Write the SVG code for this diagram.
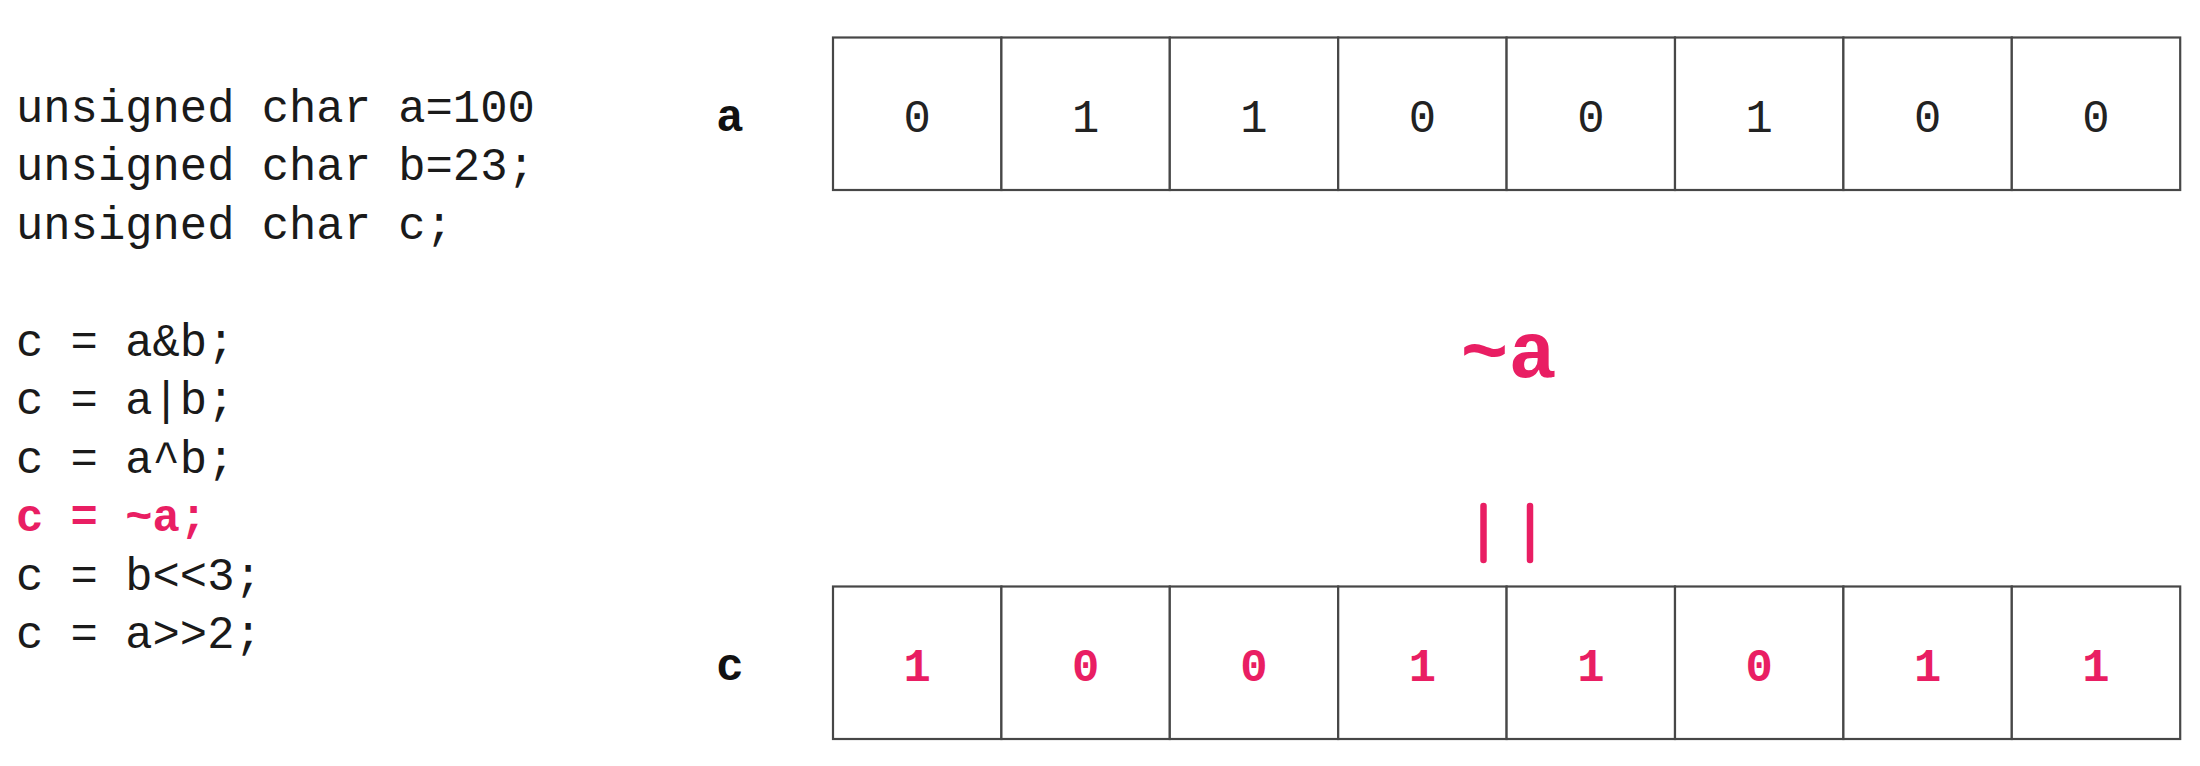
<svg xmlns="http://www.w3.org/2000/svg" width="2200" height="766" viewBox="0 0 2200 766">
<style>
.code{font-family:"Liberation Mono","Courier New",monospace;font-size:45.5px;fill:#1a1a1a}
.hl{font-family:"Liberation Mono","Courier New",monospace;font-size:45.5px;font-weight:bold;fill:#E91E63}
.cell{fill:#fff;stroke:#474747;stroke-width:2.2}
.va{font-family:"Liberation Mono","Courier New",monospace;font-size:45.5px;fill:#222;text-anchor:middle}
.vc{font-family:"Liberation Mono","Courier New",monospace;font-size:45.5px;font-weight:bold;fill:#E91E63;text-anchor:middle}
.lbl{font-family:"Liberation Mono","Courier New",monospace;font-size:45.5px;font-weight:bold;fill:#111;text-anchor:middle}
.op{font-family:"Liberation Mono","Courier New",monospace;font-size:80px;font-weight:bold;fill:#E91E63;text-anchor:middle}
.eq{stroke:#E91E63;stroke-width:6.5;stroke-linecap:round;fill:none}
</style>
<rect width="2200" height="766" fill="#fff"/>
<g id="code">
<text class="code" x="16" y="121.5">unsigned char a=100</text>
<text class="code" x="16" y="180">unsigned char b=23;</text>
<text class="code" x="16" y="238.5">unsigned char c;</text>
<text class="code" x="16" y="355.5">c = a&amp;b;</text>
<text class="code" x="16" y="414">c = a|b;</text>
<text class="code" x="16" y="472.5">c = a^b;</text>
<text class="hl" x="16" y="531">c = ~a;</text>
<text class="code" x="16" y="589.5">c = b&lt;&lt;3;</text>
<text class="code" x="16" y="648">c = a&gt;&gt;2;</text>
</g>
<g id="label-a"><text class="lbl" x="730" y="131">a</text></g>
<g id="label-c"><text class="lbl" x="730" y="680">c</text></g>
<g id="row-a">
<g id="a7"><rect class="cell" x="833" y="37.5" width="168.4" height="152.5"/><text class="va" x="917.2" y="131.5">0</text></g>
<g id="a6"><rect class="cell" x="1001.4" y="37.5" width="168.4" height="152.5"/><text class="va" x="1085.6" y="131.5">1</text></g>
<g id="a5"><rect class="cell" x="1169.8" y="37.5" width="168.4" height="152.5"/><text class="va" x="1254" y="131.5">1</text></g>
<g id="a4"><rect class="cell" x="1338.2" y="37.5" width="168.4" height="152.5"/><text class="va" x="1422.4" y="131.5">0</text></g>
<g id="a3"><rect class="cell" x="1506.6" y="37.5" width="168.4" height="152.5"/><text class="va" x="1590.8" y="131.5">0</text></g>
<g id="a2"><rect class="cell" x="1675" y="37.5" width="168.4" height="152.5"/><text class="va" x="1759.2" y="131.5">1</text></g>
<g id="a1"><rect class="cell" x="1843.4" y="37.5" width="168.4" height="152.5"/><text class="va" x="1927.6" y="131.5">0</text></g>
<g id="a0"><rect class="cell" x="2011.8" y="37.5" width="168.4" height="152.5"/><text class="va" x="2096" y="131.5">0</text></g>
</g>
<g id="row-c">
<g id="c7"><rect class="cell" x="833" y="586.5" width="168.4" height="152.5"/><text class="vc" x="917.2" y="680.5">1</text></g>
<g id="c6"><rect class="cell" x="1001.4" y="586.5" width="168.4" height="152.5"/><text class="vc" x="1085.6" y="680.5">0</text></g>
<g id="c5"><rect class="cell" x="1169.8" y="586.5" width="168.4" height="152.5"/><text class="vc" x="1254" y="680.5">0</text></g>
<g id="c4"><rect class="cell" x="1338.2" y="586.5" width="168.4" height="152.5"/><text class="vc" x="1422.4" y="680.5">1</text></g>
<g id="c3"><rect class="cell" x="1506.6" y="586.5" width="168.4" height="152.5"/><text class="vc" x="1590.8" y="680.5">1</text></g>
<g id="c2"><rect class="cell" x="1675" y="586.5" width="168.4" height="152.5"/><text class="vc" x="1759.2" y="680.5">0</text></g>
<g id="c1"><rect class="cell" x="1843.4" y="586.5" width="168.4" height="152.5"/><text class="vc" x="1927.6" y="680.5">1</text></g>
<g id="c0"><rect class="cell" x="2011.8" y="586.5" width="168.4" height="152.5"/><text class="vc" x="2096" y="680.5">1</text></g>
</g>
<g id="operator"><text class="op" x="1508.5" y="377">~a</text></g>
<g id="connectors">
<line class="eq" x1="1483.5" y1="506" x2="1483.5" y2="560"/>
<line class="eq" x1="1530" y1="506" x2="1530" y2="560"/>
</g>
</svg>
